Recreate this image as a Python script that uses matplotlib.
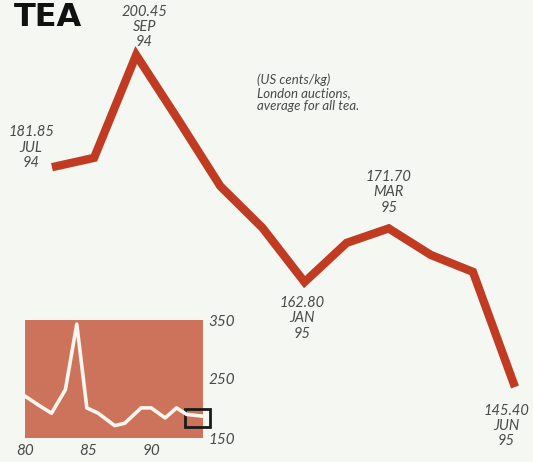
import numpy as np
import matplotlib
matplotlib.use("Agg")
from matplotlib import pyplot as plt
from matplotlib.patches import Rectangle

# monthly tea price, London auctions (US cents/kg)
months = ['JUL 94', 'AUG 94', 'SEP 94', 'OCT 94', 'NOV 94', 'DEC 94',
          'JAN 95', 'FEB 95', 'MAR 95', 'APR 95', 'MAY 95', 'JUN 95']
prices = [181.85, 183.4, 200.45, 189.7, 178.7, 171.8,
          162.80, 169.3, 171.70, 167.3, 164.5, 145.40]

# long-run series for the small panel
hist_years = [80.0, 81.2, 82.1, 83.2, 84.1, 84.9, 85.8, 87.1, 87.9,
              89.2, 90.0, 91.1, 92.0, 92.8, 94.1]
hist_prices = [221, 204, 192, 232, 343, 201, 192, 171, 175,
               201, 201, 184, 201, 190, 187]
hist_xticks = [80, 85, 90]
hist_yticks = [150, 250, 350]

# labelled points: index, text offset (points)
callouts = [(0, (-15, -2)), (2, (6, 4)), (6, (-2, -10)), (8, (0, 10)), (11, (-6, -12))]

bg = '#f5f7f3'
line_red = '#c03b21'
panel_red = '#cd735c'
grey = '#4a4a4a'

plt.rcParams['font.family'] = ['Lato', 'DejaVu Sans']

fig = plt.figure(figsize=(5.33, 4.62), dpi=100, facecolor=bg)
ax = fig.add_axes([0, 0, 1, 1])
ax.set_facecolor(bg)
x = np.arange(len(prices))
ax.plot(x, prices, color=line_red, linewidth=6, solid_joinstyle='miter', solid_capstyle='butt')
ax.set_xlim(-1.235, 11.428)
ax.set_ylim(132.97, 209.57)
ax.axis('off')

for i, off in callouts:
    mon, yr = months[i].split()
    va = 'bottom' if off[1] > -5 else 'top'
    ax.annotate('{:.2f}\n{}\n{}'.format(prices[i], mon, yr), xy=(x[i], prices[i]),
                xytext=off, textcoords='offset points', ha='center', va=va,
                fontsize=10.5, style='italic', color=grey, linespacing=1.12)

fig.text(14 / 533, 1 - 26 / 462, 'TEA', ha='left', va='baseline', fontsize=23,
         fontweight='bold', family='DejaVu Sans', color='#111111')
fig.text(0.482, 0.84, '(US cents/kg)\nLondon auctions,\naverage for all tea.',
         ha='left', va='top', fontsize=9.5, style='italic', color=grey, linespacing=1.1)

# small long-run panel
ins = fig.add_axes([25 / 533, 24 / 462, 178 / 533, 118 / 462])
ins.set_facecolor(panel_red)
ins.plot(hist_years, hist_prices, color='#fbf6ee', linewidth=2.6)
ins.set_xlim(80, 94.1)
ins.set_ylim(150, 350)
for sp in ins.spines.values():
    sp.set_visible(False)
ins.yaxis.tick_right()
ins.set_yticks(hist_yticks)
ins.set_yticklabels([str(v) for v in hist_yticks], style='italic', color=grey, fontsize=11)
ins.set_xticks(hist_xticks)
ins.set_xticklabels([str(v) for v in hist_xticks], style='italic', color=grey, fontsize=11)
ins.tick_params(length=0, pad=4)
ins.add_patch(Rectangle((92.67, 168.6), 1.98, 30.4, fill=False, edgecolor='#1a1a1a',
                        linewidth=2, clip_on=False))

plt.savefig('out.png', dpi=100, facecolor=bg)
plt.close('all')
